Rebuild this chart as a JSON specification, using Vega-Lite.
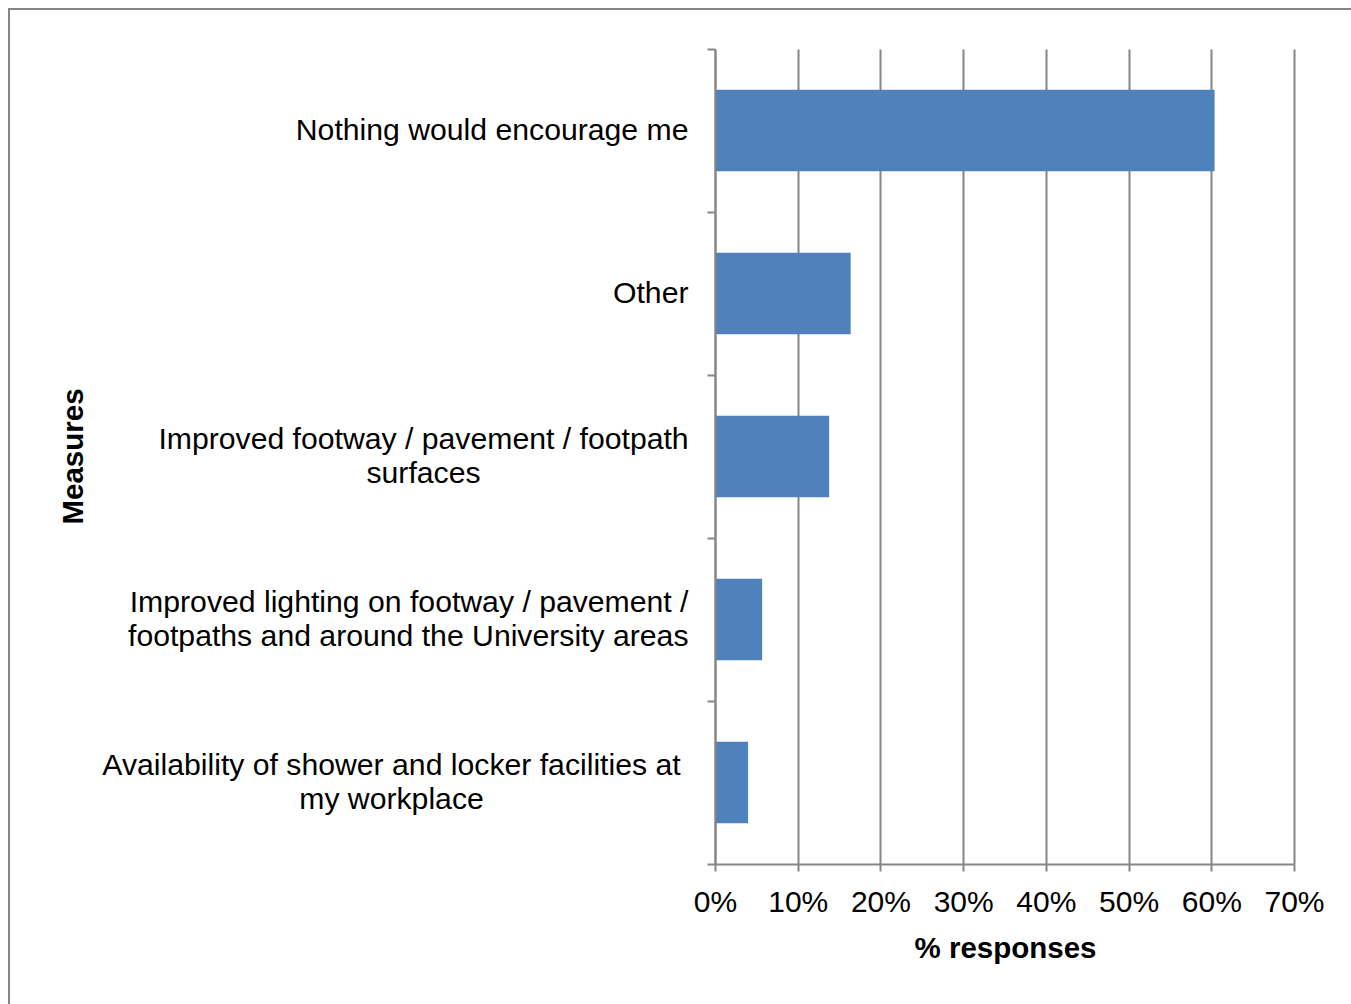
{
  "$schema": "https://vega.github.io/schema/vega-lite/v6.json",
  "width": 1344,
  "height": 997,
  "autosize": "none",
  "padding": {"left": 9, "top": 9, "right": 0, "bottom": 0},
  "background": "white",
  "data": {
    "values": [
      {"measure": "Nothing would encourage me", "pct": 0.604},
      {"measure": "Other", "pct": 0.164},
      {"measure": "Improved footway / pavement / footpath surfaces", "pct": 0.138},
      {"measure": "Improved lighting on footway / pavement / footpaths and around the University areas", "pct": 0.057},
      {"measure": "Availability of shower and locker facilities at my workplace", "pct": 0.04}
    ]
  },
  "layer": [
    {
      "mark": {"type": "bar", "color": "#4F81BD", "height": {"band": 0.5}},
      "encoding": {
        "x": {
          "field": "pct",
          "type": "quantitative",
          "scale": {"domain": [0, 0.7], "nice": false, "zero": true, "range": [706, 1285]},
          "axis": {
            "orient": "bottom",
            "offset": -142,
            "title": "% responses",
            "titleFont": "Liberation Sans",
            "titleFontSize": 29.5,
            "titleFontWeight": "bold",
            "titleColor": "#000000",
            "titleBaseline": "alphabetic",
            "titleX": 996,
            "titleY": 93,
            "format": ".0%",
            "values": [0, 0.1, 0.2, 0.3, 0.4, 0.5, 0.6, 0.7],
            "labelFontSize": 30,
            "labelPadding": 16,
            "labelBaseline": "top",
            "labelFlush": false,
            "labelOverlap": false,
            "tickSize": 7,
            "grid": false
          }
        },
        "y": {
          "field": "measure",
          "type": "nominal",
          "sort": null,
          "scale": {"paddingInner": 0, "paddingOuter": 0, "range": [40, 855]},
          "axis": {
            "orient": "left",
            "offset": -706,
            "title": "Measures",
            "titleFont": "Liberation Sans",
            "titleFontSize": 29.5,
            "titleFontWeight": "bold",
            "titleColor": "#000000",
            "titleAngle": 270,
            "titleAlign": "center",
            "titleBaseline": "middle",
            "titleX": -642,
            "titleY": 447,
            "labelAlign": "right",
            "labelBaseline": "middle",
            "labelPadding": 19,
            "labelExpr": "datum.value == 'Nothing would encourage me' || datum.value == 'Other' ? datum.value : ''",
            "tickBand": "extent",
            "tickSize": 8,
            "grid": false,
            "zindex": 1
          }
        }
      }
    },
    {
      "mark": {"type": "bar", "color": "#4F81BD", "height": {"band": 0.5}, "opacity": 0},
      "encoding": {
        "x": {
          "field": "pct",
          "type": "quantitative",
          "scale": {"domain": [0, 0.7], "nice": false, "zero": true, "range": [706, 1285]},
          "axis": {
            "orient": "top",
            "title": null,
            "values": [0, 0.1, 0.2, 0.3, 0.4, 0.5, 0.6, 0.7],
            "labels": false,
            "ticks": false,
            "domain": false,
            "grid": true,
            "gridColor": "#868686",
            "gridWidth": 2,
            "gridOpacity": 1,
            "zindex": 0
          }
        },
        "y": {
          "field": "measure",
          "type": "nominal",
          "sort": null,
          "scale": {"paddingInner": 0, "paddingOuter": 0, "range": [40, 855]},
          "axis": {
            "orient": "left",
            "offset": -706,
            "title": null,
            "domain": false,
            "tickOpacity": 0,
            "tickSize": 8,
            "labelAlign": "right",
            "labelBaseline": "middle",
            "labelPadding": 19,
            "labelOffset": -17,
            "labelExpr": "datum.value == 'Improved lighting on footway / pavement / footpaths and around the University areas' ? ['Improved lighting on footway / pavement /', 'footpaths and around the University areas'] : ''",
            "grid": false
          }
        }
      }
    },
    {
      "mark": {"type": "bar", "color": "#4F81BD", "height": {"band": 0.5}, "opacity": 0},
      "encoding": {
        "x": {
          "field": "pct",
          "type": "quantitative",
          "scale": {"domain": [0, 0.7], "nice": false, "zero": true, "range": [706, 1285]},
          "axis": null
        },
        "y": {
          "field": "measure",
          "type": "nominal",
          "sort": null,
          "scale": {"paddingInner": 0, "paddingOuter": 0, "range": [40, 855]},
          "axis": {
            "orient": "left",
            "offset": -706,
            "title": null,
            "domain": false,
            "tickOpacity": 0,
            "tickSize": 8,
            "labelAlign": "center",
            "labelBaseline": "middle",
            "labelPadding": 284,
            "labelOffset": -17,
            "labelExpr": "datum.value == 'Improved footway / pavement / footpath surfaces' ? ['Improved footway / pavement / footpath', 'surfaces'] : ''",
            "grid": false
          }
        }
      }
    },
    {
      "mark": {"type": "bar", "color": "#4F81BD", "height": {"band": 0.5}, "opacity": 0},
      "encoding": {
        "x": {
          "field": "pct",
          "type": "quantitative",
          "scale": {"domain": [0, 0.7], "nice": false, "zero": true, "range": [706, 1285]},
          "axis": null
        },
        "y": {
          "field": "measure",
          "type": "nominal",
          "sort": null,
          "scale": {"paddingInner": 0, "paddingOuter": 0, "range": [40, 855]},
          "axis": {
            "orient": "left",
            "offset": -706,
            "title": null,
            "domain": false,
            "tickOpacity": 0,
            "tickSize": 8,
            "labelAlign": "center",
            "labelBaseline": "middle",
            "labelPadding": 316,
            "labelOffset": -17,
            "labelExpr": "datum.value == 'Availability of shower and locker facilities at my workplace' ? ['Availability of shower and locker facilities at', 'my workplace'] : ''",
            "grid": false
          }
        }
      }
    }
  ],
  "resolve": {"axis": {"x": "independent", "y": "independent"}},
  "config": {
    "view": {"stroke": "#868686", "strokeWidth": 2},
    "axis": {
      "labelFont": "Liberation Sans",
      "labelFontSize": 30.2,
      "labelColor": "#000000",
      "labelLimit": 0,
      "labelLineHeight": 34,
      "tickColor": "#868686",
      "tickWidth": 2,
      "domainColor": "#868686",
      "domainWidth": 2
    }
  }
}
